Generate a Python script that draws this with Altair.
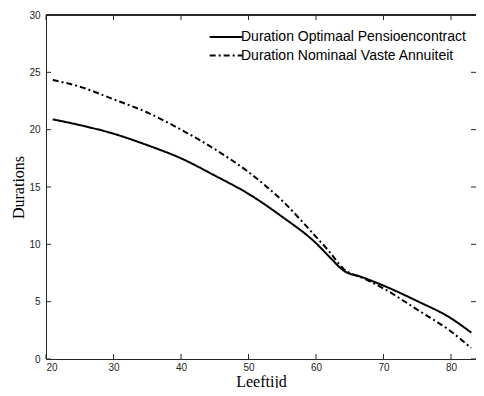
import altair as alt
import pandas as pd

ages = [21, 25, 30, 35, 40, 45, 50, 55, 60, 62, 64, 67, 70, 75, 80, 83]
optimaal = [20.9, 20.4, 19.65, 18.65, 17.5, 16.0, 14.4, 12.4, 10.1, 8.9, 7.75, 7.1, 6.4, 5.05, 3.55, 2.3]
nominaal = [24.33, 23.75, 22.65, 21.5, 20.0, 18.3, 16.3, 13.8, 10.65, 9.35, 7.9, 7.05, 6.15, 4.3, 2.4, 0.95]
series_names = ["Duration Optimaal Pensioencontract", "Duration Nominaal Vaste Annuiteit"]
x_ticks = [20, 30, 40, 50, 60, 70, 80]
y_ticks = [0, 5, 10, 15, 20, 25, 30]

W, H = 430, 344
AX = "#262626"

rows = []
for a, v in zip(ages, optimaal):
    rows.append({"age": a, "value": v, "series": series_names[0]})
for a, v in zip(ages, nominaal):
    rows.append({"age": a, "value": v, "series": series_names[1]})
df = pd.DataFrame(rows)

xs = alt.Scale(domain=[20, 83.7], nice=False, zero=False)
ys = alt.Scale(domain=[0, 30], nice=False)

lines = alt.Chart(df).mark_line(strokeWidth=2, color="black", interpolate="monotone").encode(
    x=alt.X("age:Q", scale=xs, axis=alt.Axis(
        values=x_ticks, ticks=False, domain=True, domainColor=AX, domainWidth=1,
        grid=False, title="Leeftijd",
        labelPadding=3, titlePadding=1, labelFontSize=10, labelColor=AX,
        labelFont="Liberation Sans", titleFont="Liberation Serif", titleFontSize=16,
        titleFontWeight="normal", titleColor="black")),
    y=alt.Y("value:Q", scale=ys, axis=alt.Axis(
        values=y_ticks, ticks=False, domain=True, domainColor=AX, domainWidth=1,
        grid=False, title="Durations",
        labelPadding=6, titlePadding=2, labelFontSize=10, labelColor=AX,
        labelFont="Liberation Sans", titleFont="Liberation Serif", titleFontSize=16,
        titleFontWeight="normal", titleColor="black")),
    strokeDash=alt.StrokeDash("series:N", scale=alt.Scale(domain=series_names, range=[[1, 0], [6, 3, 2, 3]]),
        legend=alt.Legend(orient="none", legendX=173, legendY=15, title=None,
                          symbolType="M-3.5,0H3.5", symbolSize=87, symbolStrokeWidth=2,
                          symbolStrokeColor="black", symbolFillColor="transparent",
                          labelFont="Liberation Sans", labelFontSize=14, labelColor="black",
                          labelLimit=0, rowPadding=4.5, labelOffset=8)),
    detail="series:N",
)

xt = pd.DataFrame({"t": x_ticks})
yt = pd.DataFrame({"t": y_ticks})
tick_style = dict(color=AX, strokeWidth=1)
bottom = alt.Chart(xt).mark_rule(**tick_style).encode(
    x=alt.X("t:Q", scale=xs), y=alt.value(H), y2=alt.value(H - 5))
top = alt.Chart(xt).mark_rule(**tick_style).encode(
    x=alt.X("t:Q", scale=xs), y=alt.value(0), y2=alt.value(5))
left = alt.Chart(yt).mark_rule(**tick_style).encode(
    y=alt.Y("t:Q", scale=ys), x=alt.value(0), x2=alt.value(5))
right = alt.Chart(yt).mark_rule(**tick_style).encode(
    y=alt.Y("t:Q", scale=ys), x=alt.value(W), x2=alt.value(W - 5))
top_edge = alt.Chart(xt).mark_rule(**tick_style).encode(
    x=alt.value(0), x2=alt.value(W), y=alt.value(0))

chart = alt.layer(lines, bottom, top, left, right, top_edge).properties(
    width=W, height=H,
    autosize=alt.AutoSizeParams(type="none"),
    padding={"left": 38, "top": 7, "right": 0, "bottom": 29},
    background="white",
).configure_view(strokeWidth=0)

chart.save("out.html", embed_options={"renderer": "svg", "actions": False})
